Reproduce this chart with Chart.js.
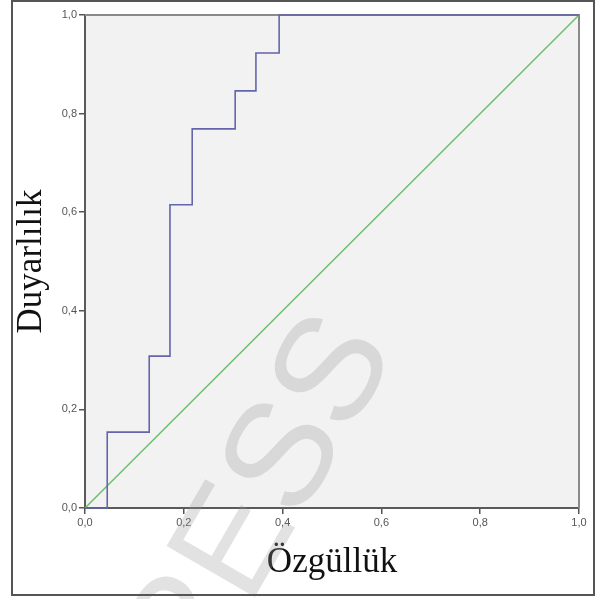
<!DOCTYPE html>
<html>
<head>
<meta charset="utf-8">
<script src="https://cdn.jsdelivr.net/npm/chart.js@4.4.1/dist/chart.umd.min.js"></script>
<style>
  html, body { margin: 0; padding: 0; background: #ffffff; }
  #wrap { width: 598px; height: 599px; position: relative; }
</style>
</head>
<body>
<div id="wrap"><canvas id="c" width="598" height="599"></canvas></div>
<script>
// ROC curve: 1 - specificity (x) vs sensitivity (y)
const oneMinusSpecificity = [0, 0.045, 0.130, 0.172, 0.217, 0.304, 0.346, 0.393, 1];
const sensitivity         = [0, 0.154, 0.308, 0.615, 0.769, 0.846, 0.923, 1.000, 1];
// reference (chance) line
const refX = [0, 1];
const refY = [0, 1];
const tickValues = [0, 0.2, 0.4, 0.6, 0.8, 1.0];
const xTitle = 'Özgüllük';
const yTitle = 'Duyarlılık';
const watermark = 'PRESS';

const toPts = (xs, ys) => xs.map((x, i) => ({ x: x, y: ys[i] }));
const fmt = v => v.toFixed(1).replace('.', ',');

const bgPlugin = {
  id: 'bg',
  beforeDraw(chart) {
    const { ctx, chartArea: a } = chart;
    ctx.save();
    ctx.fillStyle = '#f2f2f2';
    ctx.fillRect(a.left, a.top, a.right - a.left, a.bottom - a.top);
    ctx.restore();
  },
  beforeDatasetsDraw(chart) {
    const { ctx, chartArea: a } = chart;
    ctx.save();
    ctx.strokeStyle = '#8a8a8a';
    ctx.lineWidth = 2;
    ctx.beginPath();
    ctx.moveTo(a.left, a.top);
    ctx.lineTo(a.right, a.top);
    ctx.lineTo(a.right, a.bottom);
    ctx.stroke();
    ctx.restore();
  },
  afterDraw(chart) {
    const { ctx } = chart;
    ctx.save();
    // watermark
    ctx.translate(236, 548);
    ctx.rotate(-60 * Math.PI / 180);
    ctx.font = '148px "Liberation Sans", Arial, sans-serif';
    ctx.fillStyle = 'rgba(150,150,150,0.28)';
    ctx.textAlign = 'center';
    ctx.textBaseline = 'middle';
    ctx.fillText(watermark, 0, 0);
    ctx.restore();
    // outer frame
    ctx.save();
    ctx.strokeStyle = '#555555';
    ctx.lineWidth = 2;
    ctx.strokeRect(12, 1, 582, 594);
    ctx.restore();
  }
};

const tickFont = { family: '"Liberation Sans", Arial, sans-serif', size: 11 };
const titleFont = { family: '"Liberation Serif", "Times New Roman", serif', size: 35, lineHeight: 1.2 };

new Chart(document.getElementById('c'), {
  type: 'line',
  data: {
    datasets: [
      {
        data: toPts(oneMinusSpecificity, sensitivity),
        borderColor: '#6366ab',
        borderWidth: 1.6,
        stepped: true,
        pointRadius: 0,
        fill: false,
        clip: false
      },
      {
        data: toPts(refX, refY),
        borderColor: '#6cbf6c',
        borderWidth: 1.5,
        pointRadius: 0,
        fill: false,
        clip: false
      }
    ]
  },
  options: {
    responsive: false,
    animation: false,
    events: [],
    layout: { padding: { left: 0, right: 19, top: 15, bottom: 0 } },
    plugins: { legend: { display: false }, tooltip: { enabled: false } },
    scales: {
      x: {
        type: 'linear',
        min: 0, max: 1,
        afterBuildTicks: s => { s.ticks = tickValues.map(v => ({ value: v })); },
        afterFit: s => { s.height = 91; },
        ticks: { callback: v => fmt(v), font: tickFont, color: '#555555', padding: 2, maxRotation: 0 },
        grid: { drawOnChartArea: false, tickLength: 6, color: '#555555', lineWidth: 1.5 },
        border: { display: true, color: '#5a5a5a', width: 2 },
        title: { display: true, text: xTitle, font: titleFont, color: '#111111', padding: { top: 0, bottom: 15 } }
      },
      y: {
        type: 'linear',
        min: 0, max: 1,
        afterBuildTicks: s => { s.ticks = tickValues.map(v => ({ value: v })); },
        afterFit: s => { s.width = 85; },
        ticks: { callback: v => fmt(v), font: tickFont, color: '#555555', padding: 2 },
        grid: { drawOnChartArea: false, tickLength: 6, color: '#555555', lineWidth: 1.5 },
        border: { display: true, color: '#5a5a5a', width: 2 },
        title: { display: true, text: yTitle, font: titleFont, color: '#111111', padding: { top: 11, bottom: 0 } }
      }
    }
  },
  plugins: [bgPlugin]
});
</script>
</body>
</html>
